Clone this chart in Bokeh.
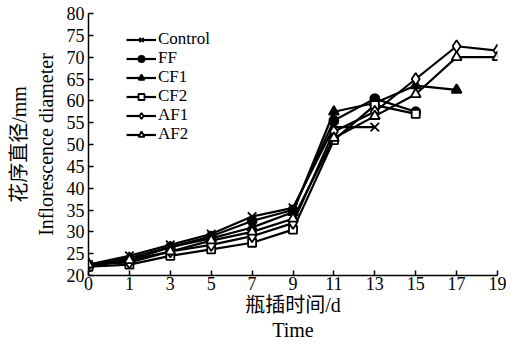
from bokeh.plotting import figure
from bokeh.models import Range1d, FixedTicker, LinearAxis, Legend, LegendItem
from bokeh.embed import file_html
from bokeh.resources import INLINE

days = ["0", "1", "3", "5", "7", "9", "11", "13", "15", "17", "19"]
y_ticks = [20, 25, 30, 35, 40, 45, 50, 55, 60, 65, 70, 75, 80]

control = [22.5, 24.5, 27.0, 29.5, 33.5, 35.5, 54.0, 54.0]
ff = [22.0, 23.5, 26.5, 29.0, 32.5, 35.0, 55.5, 60.5, 57.5]
cf1 = [22.5, 24.0, 26.5, 28.5, 31.0, 34.5, 57.5, 59.5, 63.5, 62.5]
cf2 = [22.0, 22.5, 24.5, 26.0, 27.5, 30.5, 51.0, 59.0, 57.0]
af1 = [22.5, 23.0, 25.5, 27.0, 29.0, 32.0, 53.0, 57.5, 65.0, 72.5, 71.5]
af2 = [22.5, 23.5, 25.5, 28.0, 30.0, 33.0, 51.5, 56.5, 61.5, 70.0, 70.0]

series = [
    ("Control", control, "x", 12, "black"),
    ("FF", ff, "circle", 9, "black"),
    ("CF1", cf1, "triangle", 10, "black"),
    ("CF2", cf2, "square", 8, "white"),
    ("AF1", af1, "diamond", 12, "white"),
    ("AF2", af2, "triangle", 10, "white"),
]

SERIF = "Liberation Serif"
CJK = "'Liberation Serif', 'Noto Sans CJK SC'"
LBL = "20px"

p = figure(width=506, height=343, output_backend="svg", toolbar_location=None,
           x_range=Range1d(0, len(days) - 1), y_range=Range1d(20, 80),
           min_border_left=88, min_border_right=9, min_border_top=13, min_border_bottom=10,
           x_axis_location=None, y_axis_location=None)
p.grid.visible = False
p.outline_line_color = None
p.background_fill_color = "white"
p.border_fill_color = "white"

def style_axis(ax, label, font):
    ax.axis_label = label
    ax.axis_label_text_font = font
    ax.axis_label_text_font_style = "normal"
    ax.axis_label_text_font_size = LBL
    ax.axis_label_text_color = "black"
    ax.major_label_text_font = SERIF
    ax.major_label_text_font_size = "18px"
    ax.major_label_text_color = "black"
    ax.axis_line_color = "black"
    ax.axis_line_width = 1.5
    ax.major_tick_line_color = "black"
    ax.major_tick_line_width = 1.5
    ax.major_tick_in = 5
    ax.major_tick_out = 0
    ax.minor_tick_line_color = None

def label_axis(label, font, standoff):
    ax = LinearAxis(ticker=FixedTicker(ticks=[]), axis_line_color=None,
                    major_tick_line_color=None, minor_tick_line_color=None,
                    major_label_standoff=0, major_tick_out=0, major_tick_in=0)
    ax.axis_label = label
    ax.axis_label_text_font = font
    ax.axis_label_text_font_style = "normal"
    ax.axis_label_text_font_size = LBL
    ax.axis_label_text_color = "black"
    ax.axis_label_standoff = standoff
    return ax

xax = LinearAxis(ticker=FixedTicker(ticks=list(range(len(days)))))
xax.major_label_overrides = {i: d for i, d in enumerate(days)}
style_axis(xax, "瓶插时间/d", CJK)
xax.major_label_standoff = 1
xax.axis_label_standoff = 1
p.add_layout(xax, "below")
p.add_layout(label_axis("Time", SERIF, 0), "below")

yax = LinearAxis(ticker=FixedTicker(ticks=y_ticks))
style_axis(yax, "Inflorescence diameter", SERIF)
yax.major_label_standoff = 4
yax.axis_label_standoff = 7
p.add_layout(yax, "left")
p.add_layout(label_axis("花序直径/mm", CJK, 2), "left")

renderers = []
for name, vals, marker, size, fill in series:
    xs = list(range(len(vals)))
    lr = p.line(xs, vals, line_color="black", line_width=2.2)
    sr = p.scatter(xs, vals, marker=marker, size=size, line_color="black",
                   line_width=1.8, fill_color=fill)
    renderers.append((name, lr, sr))

# one small legend per entry so that rows can sit close together
for i, (name, lr, sr) in enumerate(renderers):
    lg = Legend(items=[LegendItem(label=name, renderers=[lr, sr])],
                location=(38, 226 - 19 * i), orientation="vertical",
                border_line_color=None, background_fill_alpha=0,
                padding=0, spacing=0, margin=0,
                glyph_width=30, glyph_height=15, label_height=15,
                label_standoff=2, label_text_font=SERIF,
                label_text_font_size="17px", label_text_color="black")
    p.add_layout(lg)

open("out.html", "w").write(file_html(p, INLINE))
